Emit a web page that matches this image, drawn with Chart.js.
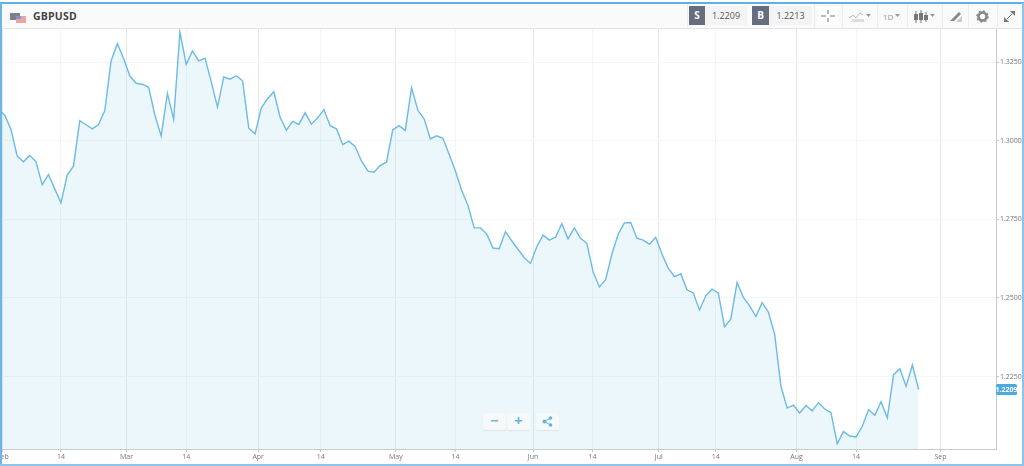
<!DOCTYPE html>
<html><head><meta charset="utf-8">
<script src="https://cdn.jsdelivr.net/npm/chart.js@4"></script>
<style>
html,body{margin:0;padding:0;background:#fff;overflow:hidden}
#wrap{position:relative;width:1024px;height:466px;font-family:"Open Sans",sans-serif;overflow:hidden}
#c{position:absolute;left:0;top:0}
#top{position:absolute;left:0;top:2px;width:1024px;height:2px;background:#5fb0e4}
#lb{position:absolute;left:0;top:3px;width:2px;height:463px;background:#6cb5e6}
#rb{position:absolute;right:0;top:3px;width:2px;height:463px;background:#8cc4ea}
#bb{position:absolute;left:0;top:464px;width:1024px;height:2px;background:#8cc4ea}
#hd{position:absolute;left:2px;top:4px;width:1020px;height:25px;background:#fafafa;border-bottom:1px solid #e4e4e4;box-sizing:border-box}
.t{position:absolute;white-space:nowrap}
.sep{position:absolute;top:4px;width:1px;height:25px;background:#ececec}
.box{position:absolute;top:6px;height:19px;background:#666d80;color:#fff;font-size:10px;font-weight:700;text-align:center;line-height:19px}
.val{position:absolute;top:6px;height:19px;background:#f4f4f4;color:#555;font-size:9px;line-height:19px;text-align:center}
.zb{position:absolute;top:413px;height:17px;background:#f6f9fa;box-shadow:0 1px 1px #dfe5e8;color:#63b3e0;text-align:center;border-radius:2px}
svg{position:absolute}
</style></head><body>
<div id="wrap">
<canvas id="c" width="1024" height="466"></canvas>
<div id="hd"></div>
<div id="top"></div><div id="lb"></div><div id="rb"></div><div id="bb"></div>
<svg style="left:10px;top:11px" width="17" height="12"><rect x="0" y="2" width="10" height="7" fill="#7b7f8c"/><rect x="6" y="5" width="10" height="7" fill="#eda3a6"/><rect x="6" y="5" width="5" height="3" fill="#7f95c8"/></svg>
<div class="t" style="left:33px;top:9px;font-size:10.5px;font-weight:700;color:#444;letter-spacing:.2px">GBPUSD</div>
<div class="val" style="left:705px;width:42px">1.2209</div>
<div class="box" style="left:689px;width:16px">S</div>
<div class="val" style="left:769px;width:43px">1.2213</div>
<div class="box" style="left:752px;width:17px">B</div>
<div class="sep" style="left:687px"></div><div class="sep" style="left:814px"></div><div class="sep" style="left:842px"></div><div class="sep" style="left:877px"></div><div class="sep" style="left:907px"></div><div class="sep" style="left:942px"></div><div class="sep" style="left:968px"></div><div class="sep" style="left:997px"></div>
<svg style="left:818px;top:7px;background:#fff" width="20" height="18"><path d="M3 9h5M12 9h5M10 3v4M10 11v4" stroke="#777" stroke-width="1"/></svg>
<svg style="left:849px;top:11px" width="18" height="12"><path d="M0 7l4-3 3 3 4-5 3 2" stroke="#bbb" fill="none"/><rect x="3" y="8" width="12" height="3" fill="#ddd"/></svg>
<svg style="left:866px;top:14px" width="6" height="4"><path d="M0 0h5L2.500 3z" fill="#999"/></svg>
<div class="t" style="left:883px;top:11px;font-size:8px;color:#999">1D</div>
<svg style="left:895px;top:14px" width="6" height="4"><path d="M0 0h5L2.500 3z" fill="#999"/></svg>
<svg style="left:914px;top:10px" width="15" height="14"><path d="M2 1v12M7 0v13M12 2v10" stroke="#777"/><rect x="0" y="4" width="4" height="6" fill="#777"/><rect x="5" y="3" width="4" height="7" fill="#777"/><rect x="10" y="5" width="4" height="5" fill="#777"/></svg>
<svg style="left:930px;top:14px" width="6" height="4"><path d="M0 0h5L2.500 3z" fill="#999"/></svg>
<svg style="left:950px;top:11px" width="12" height="12"><path d="M0 10L9 1l2 2-7 7z" fill="#888"/><path d="M6 11h6V5z" fill="#ccc"/></svg>
<svg style="left:976px;top:10px" width="13" height="13"><circle cx="6.500" cy="6.500" r="4" fill="none" stroke="#888" stroke-width="2.600"/><circle cx="6.500" cy="6.500" r="5.500" fill="none" stroke="#888" stroke-width="1.600" stroke-dasharray="2 2.300"/></svg>
<svg style="left:1003px;top:10px" width="13" height="13"><path d="M7 1h5v5zM1 12V7l5 5z" fill="#777"/><path d="M4 9l5-5" stroke="#777"/></svg>
<div class="zb" style="left:483px;width:23px;font-size:15px;line-height:15px;font-weight:700;color:#7fb9da">−</div>
<div class="zb" style="left:507px;width:23px;font-size:15px;line-height:15px;font-weight:700">+</div>
<div class="zb" style="left:536px;width:23px"><svg style="left:6px;top:3px" width="11" height="11"><path d="M2 5.500L9 2M2 5.500L9 9" stroke="#63b3e0"/><circle cx="2.500" cy="5.500" r="2" fill="#63b3e0"/><circle cx="8.500" cy="2" r="1.800" fill="#63b3e0"/><circle cx="8.500" cy="9" r="1.800" fill="#63b3e0"/></svg></div>
</div>
<script>
const prices = [1.3100,1.3082,1.3037,1.2952,1.2933,1.2953,1.2934,1.2860,1.2893,1.2847,1.2803,1.2891,1.2920,1.3064,1.3051,1.3038,1.3052,1.3096,
1.3254,1.3309,1.3262,1.3206,1.3183,1.3180,1.3170,1.3082,1.3015,1.3151,1.3068,1.3346,1.3243,1.3286,1.3254,1.3263,1.3188,1.3107,1.3203,1.3196,1.3207,1.3191,1.3040,1.3022,1.3105,1.3134,1.3156,1.3075,1.3034,1.3062,1.3052,1.3089,1.3053,1.3073,1.3099,1.3048,1.3038,
1.2988,1.2999,1.2981,1.2936,1.2904,1.2900,1.2922,1.2932,1.3035,1.3048,1.3033,1.3169,1.3097,1.3070,1.3006,1.3016,1.3008,1.2957,1.2904,1.2843,1.2795,1.2723,1.2723,1.2704,1.2659,1.2657,1.2711,1.2682,1.2655,1.2628,1.2610,1.2663,1.2700,1.2684,1.2693,1.2736,1.2688,1.2723,1.2690,1.2674,1.2583,1.2535,1.2558,1.2639,1.2703,1.2739,1.2740,1.2690,1.2684,1.2671,1.2693,1.2640,1.2595,1.2568,
1.2577,1.2526,1.2516,1.2462,1.2507,1.2528,1.2516,1.2408,1.2433,1.2549,1.2502,1.2475,1.2441,1.2485,1.2455,1.2385,1.2220,1.2150,1.2159,1.2134,1.2158,1.2141,1.2167,1.2147,1.2135,1.2037,1.2075,1.2061,1.2058,1.2092,1.2145,1.2127,1.2170,1.2119,1.2256,1.2275,1.2219,1.2287,1.2209];
const xTickPositions = [0.7,10,20.46,30,41.5,51.5,63.5,73,85.4,94.9,105.5,114.6,127.5,137,150.5];
const xTickLabels = ['Feb','14','Mar','14','Apr','14','May','14','Jun','14','Jul','14','Aug','14','Sep'];
const yTickValues = [1.225,1.25,1.275,1.3,1.325];
const lastQuote = 1.2209;
const tickFont = {family:'"Open Sans",sans-serif',size:7};

const lastLabel = {id:'lastLabel',afterDraw(ch){
  const y = ch.scales.y.getPixelForValue(lastQuote), c = ch.ctx;
  c.save();c.fillStyle='#4ea9de';
  c.beginPath();c.roundRect(996,y-5.500,21,11,1.500);c.fill();
  c.fillStyle='#fff';c.font='700 7px "Open Sans",sans-serif';c.textAlign='center';c.textBaseline='middle';
  c.fillText(lastQuote.toFixed(4),1006.500,y+.5);c.restore();
}};

new Chart(document.getElementById('c'),{
  type:'line',
  data:{datasets:[{data:prices.map((v,i)=>({x:i,y:v})),borderColor:'#6bbbe6',borderWidth:1.4,pointRadius:0,tension:0,
    fill:'start',backgroundColor:'rgba(150,212,232,0.18)'}]},
  options:{responsive:false,animation:false,parsing:false,normalized:true,
    layout:{padding:{top:29,left:0,right:0,bottom:0}},
    plugins:{legend:{display:false},tooltip:{enabled:false}},
    scales:{
      x:{type:'linear',min:0.256,max:159.36,
        afterBuildTicks(s){s.ticks=xTickPositions.map(v=>({value:v}));},
        afterFit(s){s.paddingLeft=0;s.paddingRight=0;s.height=17;},
        ticks:{autoSkip:false,maxRotation:0,color:'#777',font:tickFont,padding:1,
          callback:(v,i)=>xTickLabels[i]},
        grid:{color:c=>xTickLabels[c.index]==='14'?'#f4f5f5':'#e6e9ea',tickLength:3,tickColor:'#c4c8cb',drawTicks:true},
        border:{color:'#c9cccf',width:1}},
      y:{position:'right',min:1.20197,max:1.33556,
        afterBuildTicks(s){s.ticks=yTickValues.map(v=>({value:v}));},
        afterFit(s){s.width=28;s.paddingTop=0;s.paddingBottom=0;},
        ticks:{color:'#777',font:tickFont,padding:1,callback:v=>v.toFixed(4)},
        grid:{color:'#f6f6f6',tickLength:3,tickColor:'#c4c8cb'},
        border:{color:'#c9cccf',width:1}}
    }},
  plugins:[lastLabel]
});
</script>
</body></html>
